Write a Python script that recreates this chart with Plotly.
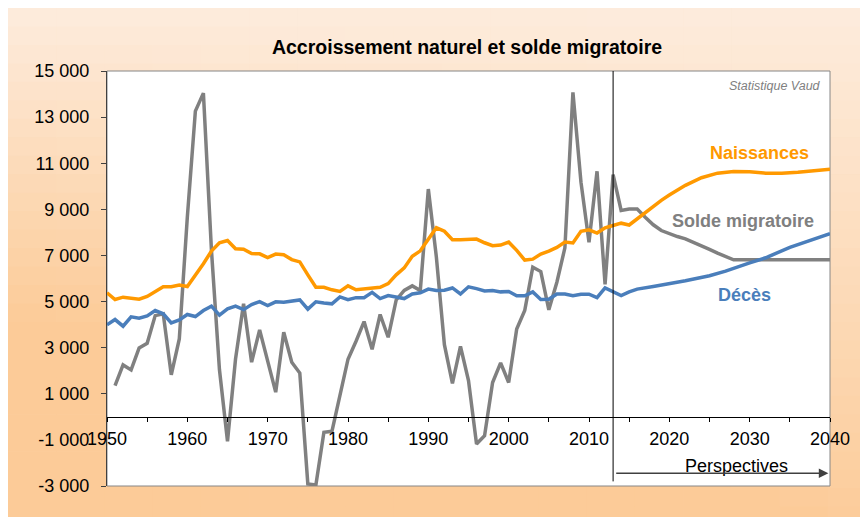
import plotly.graph_objects as go

# ---------------- data ----------------
hist_years = list(range(1950, 2014))

births_hist = [5380, 5090, 5190, 5130, 5100, 5220, 5410, 5640, 5640, 5720,
               5650, 6120, 6640, 7190, 7550, 7650, 7290, 7270, 7080, 7070,
               6910, 7060, 7030, 6820, 6720, 6160, 5620, 5620, 5510, 5440,
               5680, 5510, 5550, 5570, 5620, 5780, 6160, 6460, 6960, 7200,
               7690, 8200, 8050, 7680, 7680, 7680, 7710, 7550, 7420, 7450,
               7580, 7220, 6800, 6840, 7060, 7190, 7350, 7580, 7540, 8050,
               8110, 7970, 8200, 8300]
births_proj_years = [2014, 2015, 2016, 2017, 2018, 2019, 2020, 2022, 2024,
                     2026, 2028, 2030, 2032, 2034, 2036, 2038, 2040]
births_proj = [8400, 8320, 8590, 8850, 9140, 9390, 9620, 10040, 10370,
               10570, 10640, 10630, 10570, 10570, 10610, 10670, 10740]

deaths_hist = [3990, 4220, 3930, 4340, 4280, 4380, 4610, 4470, 4075, 4200,
               4440, 4350, 4610, 4800, 4410, 4680, 4800, 4650, 4870, 5000,
               4830, 4990, 4970, 5020, 5070, 4670, 4990, 4940, 4900, 5200,
               5080, 5170, 5170, 5400, 5130, 5260, 5200, 5130, 5330, 5380,
               5540, 5480, 5490, 5590, 5330, 5640, 5560, 5460, 5480, 5420,
               5440, 5250, 5250, 5420, 5090, 5100, 5330, 5330, 5250, 5320,
               5320, 5170, 5590, 5440]
deaths_proj_years = [2014, 2015, 2016, 2018, 2020, 2022, 2025, 2027, 2030,
                     2032, 2035, 2037, 2040]
deaths_proj = [5260, 5420, 5540, 5650, 5770, 5900, 6120, 6320, 6680,
               6900, 7350, 7580, 7940]

migr_hist = [None, 1355, 2250, 2035, 2990, 3190, 4390, 4470, 1820, 3380,
             8660, 13260, 14040, 7240, 2040, -1060, 2510, 4900, 2370, 3770,
             2480, 1070, 3670, 2370, 1900, -2910, -2960, -670, -630, 950,
             2500, 3280, 4130, 2930, 4440, 3450, 5070, 5480, 5680, 5480,
             9880, 6930, 3130, 1450, 3060, 1570, -1180, -820, 1490, 2340,
             1490, 3810, 4610, 6490, 6300, 4640, 5840, 7330, 14070, 10180,
             7570, 10650, 5740, 10510]
migr_proj_years = [2014, 2015, 2016, 2017, 2018, 2019, 2020, 2021, 2022,
                   2023, 2024, 2025, 2026, 2027, 2028, 2040]
migr_proj = [8950, 9010, 9010, 8660, 8330, 8080, 7940, 7820, 7720,
             7580, 7420, 7260, 7100, 6950, 6810, 6810]

y_ticks = [-3000, -1000, 1000, 3000, 5000, 7000, 9000, 11000, 13000, 15000]
y_ticktext = ["-3 000", "-1 000", "1 000", "3 000", "5 000", "7 000",
              "9 000", "11 000", "13 000", "15 000"]
x_ticks = list(range(1950, 2041, 5))
x_ticktext = [str(v) if v % 10 == 0 else "" for v in x_ticks]

# ---------------- styles ----------------
W, H = 868, 517
L, R, T, B = 99, 46, 63, 39
ORANGE = "#FF9900"
BLUE = "#4A7EBB"
GREY = "#808080"
FONT = "Liberation Sans, Arial, sans-serif"

fig = go.Figure()


def add_series(xh, yh, xp, yp, color):
    fig.add_trace(go.Scatter(x=xh + xp, y=yh + yp, mode="lines",
                             line=dict(color=color, width=3.5),
                             showlegend=False, hoverinfo="x+y"))


add_series(hist_years, migr_hist, migr_proj_years, migr_proj, GREY)
add_series(hist_years, deaths_hist, deaths_proj_years, deaths_proj, BLUE)
add_series(hist_years, births_hist, births_proj_years, births_proj, ORANGE)

# dummy trace for the zero-line x axis
fig.add_trace(go.Scatter(x=[1950], y=[None], xaxis="x2", yaxis="y",
                         showlegend=False, hoverinfo="skip"))

# ---------------- background gradient ----------------
pw, ph = W - L - R, H - T - B
VIS_W, VIS_H = 860, 509  # visible part of the paper in the window
c_top = (253, 236, 221)
c_bot = (252, 203, 152)
shapes = []
NX, NY = 18, 28
for i in range(NX):
    px0 = W * i / NX
    px1 = W * (i + 1) / NX
    h = min(1.0, ((px0 + px1) / 2) / VIS_W)
    for j in range(NY):
        py0 = H * j / NY
        py1 = H * (j + 1) / NY
        v = min(1.0, ((py0 + py1) / 2) / VIS_H)
        t = v * 0.95 + (1 - h) * v * 0.7
        t = max(0.0, min(1.0, t))
        col = tuple(round(c_top[k] + (c_bot[k] - c_top[k]) * t) for k in range(3))
        shapes.append(dict(type="rect", xref="paper", yref="paper", layer="below",
                           x0=(px0 - L) / pw, x1=(px1 - L + 0.6) / pw,
                           y0=(H - B - py1 - 0.6) / ph, y1=(H - B - py0) / ph,
                           line=dict(width=0),
                           fillcolor="rgb(%d,%d,%d)" % col))
# white plot area with grey frame
shapes.append(dict(type="rect", xref="paper", yref="paper", layer="below",
                   x0=0, x1=1, y0=0, y1=1, fillcolor="white",
                   line=dict(color="#868686", width=1)))
# projection separator
shapes.append(dict(type="line", xref="x", yref="y", x0=2013, x1=2013,
                   y0=-2800, y1=15000, line=dict(color="black", width=1)))

annotations = [
    dict(x=2031.2, y=11433, xref="x", yref="y", text="<b>Naissances</b>",
         showarrow=False, font=dict(family=FONT, size=18, color=ORANGE)),
    dict(x=2029.2, y=8500, xref="x", yref="y", text="<b>Solde migratoire</b>",
         showarrow=False, font=dict(family=FONT, size=18, color=GREY)),
    dict(x=2029.4, y=5280, xref="x", yref="y", text="<b>Décès</b>",
         showarrow=False, font=dict(family=FONT, size=18, color=BLUE)),
    dict(x=2039.1, y=14350, xref="x", yref="y", text="<i>Statistique Vaud</i>",
         xanchor="right", showarrow=False,
         font=dict(family=FONT, size=12.5, color="#808080")),
    dict(x=2028.4, y=-2130, xref="x", yref="y", text="Perspectives",
         showarrow=False, font=dict(family=FONT, size=18, color="black")),
    dict(x=2039.8, y=-2450, xref="x", yref="y", ax=2013.2, ay=-2450,
         axref="x", ayref="y", text="", showarrow=True, arrowhead=2,
         arrowsize=1.2, arrowwidth=1.6, arrowcolor="#404040"),
]

fig.update_layout(
    width=W, height=H,
    margin=dict(l=L, r=R, t=T, b=B),
    paper_bgcolor="rgb(252,215,180)", plot_bgcolor="white",
    font=dict(family=FONT, size=18, color="black"),
    title=dict(text="<b>Accroissement naturel et solde migratoire</b>",
               x=(459 - L) / pw, xref="paper", xanchor="center",
               y=1 - 39 / H, yref="container", yanchor="middle",
               font=dict(family=FONT, size=19.5, color="black")),
    xaxis=dict(range=[1950, 2040], showgrid=False, zeroline=False,
               showticklabels=False, ticks="", showline=False),
    xaxis2=dict(range=[1950, 2040], overlaying="x", anchor="free",
                position=3000 / 18000, side="bottom",
                showgrid=False, zeroline=False, showline=True,
                linecolor="black", linewidth=1.2,
                tickmode="array", tickvals=x_ticks, ticktext=x_ticktext,
                ticks="outside", ticklen=4, tickcolor="black",
                ticklabelstandoff=1,
                tickfont=dict(family=FONT, size=18, color="black")),
    yaxis=dict(range=[-3000, 15000], showgrid=False, zeroline=False,
               showline=True, linecolor="#404040", linewidth=1.2,
               tickmode="array", tickvals=y_ticks, ticktext=y_ticktext,
               ticks="outside", ticklen=5, tickcolor="#404040",
               ticklabelstandoff=8,
               tickfont=dict(family=FONT, size=18, color="black")),
    shapes=shapes,
    annotations=annotations,
    showlegend=False,
)

fig.write_html("out.html")
